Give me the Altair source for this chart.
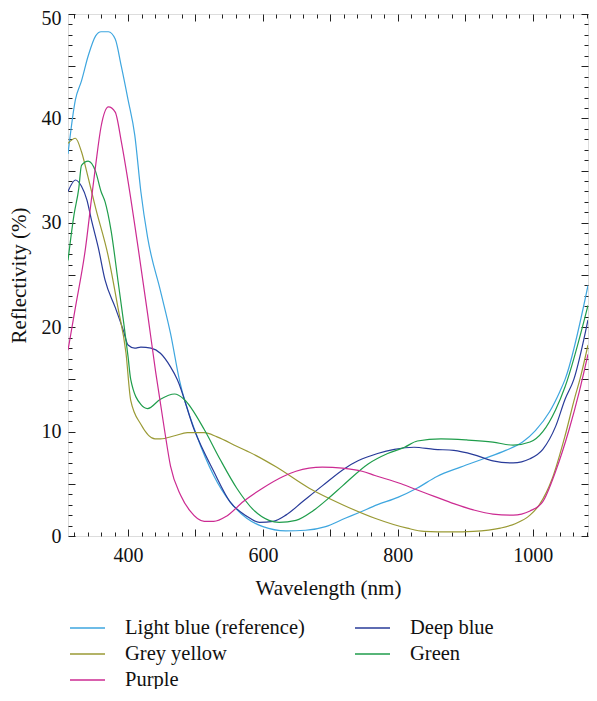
import altair as alt
import pandas as pd

# ---- data ----
names = ["Light blue (reference)", "Grey yellow", "Purple", "Deep blue", "Green"]
colors = ["#3ea6df", "#9a9a35", "#cc2b92", "#283b99", "#1f9d4b"]

lb_wl = [311, 322, 331, 341, 352, 360, 371, 381, 390, 400, 410, 419, 429, 448, 463, 476, 502, 527, 551, 576, 600, 634, 663, 693, 722, 741, 770, 800, 829, 858, 893, 927, 960, 985, 1004, 1025, 1040, 1048, 1082]
lb_r = [36.6, 41.8, 43.6, 46.0, 47.9, 48.3, 48.3, 47.6, 45.0, 41.8, 38.4, 33.0, 28.6, 23.5, 19.4, 15.0, 9.6, 5.8, 3.3, 1.7, 0.9, 0.5, 0.55, 0.9, 1.7, 2.2, 3.0, 3.7, 4.6, 5.7, 6.6, 7.4, 8.2, 9.0, 10.1, 11.9, 13.8, 15.0, 24.0]

db_wl = [311, 322, 331, 339, 346, 356, 366, 381, 393, 400, 410, 419, 434, 448, 463, 473, 498, 527, 551, 576, 595, 615, 634, 659, 688, 722, 741, 770, 795, 824, 854, 883, 912, 941, 971, 996, 1015, 1034, 1048, 1061, 1082]
db_r = [33.0, 34.1, 33.5, 32.2, 30.2, 27.6, 24.5, 21.9, 19.7, 18.3, 18.0, 18.1, 18.0, 17.5, 16.2, 15.0, 10.2, 6.2, 3.3, 1.9, 1.3, 1.4, 2.0, 3.3, 4.8, 6.5, 7.2, 7.9, 8.3, 8.5, 8.3, 8.2, 7.8, 7.2, 7.0, 7.4, 8.3, 10.5, 13.1, 15.0, 20.7]

gy_wl = [311, 322, 331, 341, 352, 371, 385, 397, 404, 419, 440, 448, 469, 488, 513, 532, 561, 590, 620, 668, 718, 766, 814, 839, 879, 912, 952, 975, 996, 1010, 1029, 1048, 1063, 1070, 1082]
gy_r = [37.6, 38.1, 36.8, 34.3, 31.4, 26.7, 21.9, 17.5, 13.0, 10.7, 9.3, 9.3, 9.6, 9.9, 9.9, 9.5, 8.6, 7.7, 6.6, 4.6, 3.0, 1.7, 0.75, 0.45, 0.4, 0.45, 0.75, 1.2, 2.0, 3.0, 5.5, 9.6, 13.4, 15.0, 18.3]

gr_wl = [311, 320, 327, 331, 341, 352, 360, 366, 375, 385, 393, 400, 404, 419, 429, 448, 469, 483, 513, 536, 561, 586, 609, 624, 649, 674, 697, 718, 756, 785, 810, 829, 864, 902, 941, 971, 996, 1015, 1034, 1048, 1082]
gr_r = [26.4, 30.8, 33.3, 35.5, 35.9, 34.9, 33.0, 32.0, 29.2, 24.5, 20.7, 17.2, 15.0, 12.6, 12.2, 13.1, 13.6, 13.1, 10.2, 7.4, 4.6, 2.5, 1.5, 1.3, 1.5, 2.4, 3.6, 4.8, 6.9, 7.9, 8.5, 9.1, 9.3, 9.2, 9.0, 8.7, 9.0, 10.0, 12.1, 14.3, 22.1]

pu_wl = [311, 322, 337, 346, 352, 360, 371, 381, 390, 400, 415, 429, 441, 454, 463, 478, 492, 513, 527, 546, 571, 600, 630, 649, 688, 718, 747, 766, 805, 829, 854, 883, 912, 941, 971, 996, 1015, 1034, 1054, 1069, 1082]
pu_r = [17.8, 21.9, 27.6, 32.4, 35.5, 39.2, 41.1, 40.6, 37.8, 34.0, 27.6, 21.3, 15.7, 10.2, 6.7, 3.9, 2.4, 1.4, 1.4, 1.9, 3.3, 4.6, 5.7, 6.2, 6.6, 6.5, 6.2, 5.8, 5.0, 4.4, 3.8, 3.1, 2.5, 2.1, 2.0, 2.4, 3.3, 6.2, 10.2, 13.8, 17.4]

x_labels = [400, 600, 800, 1000]
y_labels = [0, 10, 20, 30, 40, 50]
x_ticks = list(range(320, 1081, 20))
y_ticks = list(range(0, 51, 1))

series = [
    ("Light blue (reference)", lb_wl, lb_r),
    ("Deep blue", db_wl, db_r),
    ("Grey yellow", gy_wl, gy_r),
    ("Green", gr_wl, gr_r),
    ("Purple", pu_wl, pu_r),
]
rows = []
for n, wl, rf in series:
    for a, b in zip(wl, rf):
        rows.append({"name": n, "wl": a, "r": b})
df = pd.DataFrame(rows)

W, H = 520, 522
FONT = "Liberation Serif"
xs = alt.Scale(domain=[311, 1082], nice=False, zero=False)
ys = alt.Scale(domain=[0, 50], nice=False)

base = alt.Chart(df)

lines = base.mark_line(strokeWidth=1.2, interpolate="monotone", clip=True).encode(
    x=alt.X("wl:Q", scale=xs, axis=alt.Axis(
        orient="bottom", values=x_labels, format="d", ticks=False, domain=False, grid=False,
        title="Wavelength (nm)", labelFont=FONT, titleFont=FONT, labelFontSize=20,
        titleFontSize=21, titleFontWeight="normal", labelColor="#111", titleColor="#111",
        labelPadding=9, titlePadding=12)),
    y=alt.Y("r:Q", scale=ys, axis=alt.Axis(
        orient="left", values=y_labels, ticks=False, domain=False, grid=False,
        title="Reflectivity (%)", labelFont=FONT, titleFont=FONT, labelFontSize=20,
        titleFontSize=21, titleFontWeight="normal", labelColor="#111", titleColor="#111",
        labelPadding=7, titlePadding=12,
        labelOffset={"condition": {"test": "datum.value === 50", "value": 4}, "value": 0})),
    color=alt.Color("name:N", scale=alt.Scale(domain=names, range=colors), sort=names,
                    legend=alt.Legend(title=None, orient="none", legendX=1, legendY=601,
                                      columns=2, symbolType="stroke", symbolSize=1225,
                                      symbolStrokeWidth=1.3, labelFont=FONT, labelFontSize=20.5,
                                      labelColor="#111", labelOffset=19, labelLimit=400,
                                      clipHeight=26, rowPadding=0, columnPadding=49)),
    detail="name:N",
)

tick_cond_x = {"condition": {"test": "datum.value % 100 === 0", "value": 7}, "value": 4}
tick_cond_y = {"condition": {"test": "datum.value % 5 === 0", "value": 7}, "value": 4}

inner1 = base.mark_point(opacity=0).encode(
    x=alt.X("wl:Q", scale=xs, axis=alt.Axis(
        orient="top", offset=-H, values=x_ticks, labels=False, domain=False, grid=False,
        title=None, tickSize=tick_cond_x, tickColor="#222", tickWidth=1)),
    y=alt.Y("r:Q", scale=ys, axis=alt.Axis(
        orient="right", offset=-W, values=y_ticks, labels=False, domain=False, grid=False,
        title=None, tickSize=tick_cond_y, tickColor="#222", tickWidth=1)),
)

inner2 = base.mark_point(opacity=0).encode(
    x=alt.X("wl:Q", scale=xs, axis=alt.Axis(
        orient="bottom", offset=-H, values=x_ticks, labels=False, domain=False, grid=False,
        title=None, tickSize=tick_cond_x, tickColor="#222", tickWidth=1)),
    y=alt.Y("r:Q", scale=ys, axis=alt.Axis(
        orient="left", offset=-W, values=y_ticks, labels=False, domain=False, grid=False,
        title=None, tickSize=tick_cond_y, tickColor="#222", tickWidth=1)),
)

chart = alt.layer(lines, inner1, inner2).resolve_axis(
    x="independent", y="independent"
).properties(
    width=W, height=H,
    autosize=alt.AutoSizeParams(type="none"),
    padding={"left": 60, "top": 6, "right": 1, "bottom": 153},
).configure_view(stroke="#222", strokeWidth=1.3).configure(background="white")

chart.save("out.html", embed_options={"renderer": "svg", "actions": False})
